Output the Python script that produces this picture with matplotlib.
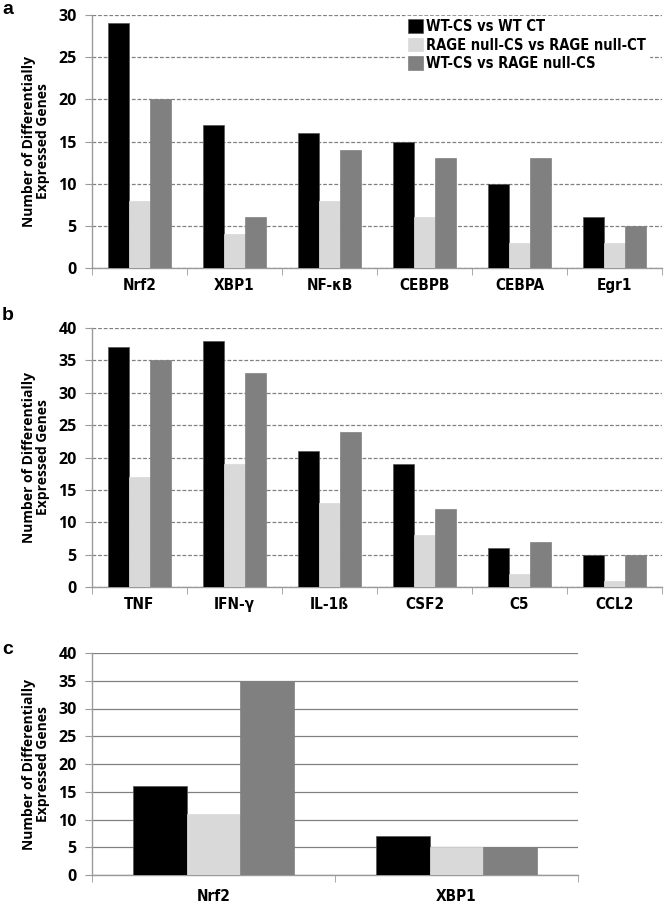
import matplotlib
matplotlib.use("Agg")
import matplotlib.pyplot as plt
import numpy as np

# data
series_names = ["WT-CS vs WT CT", "RAGE null-CS vs RAGE null-CT", "WT-CS vs RAGE null-CS"]
colors = ["#000000", "#d9d9d9", "#808080"]

a_labels = ["Nrf2", "XBP1", "NF-\u03baB", "CEBPB", "CEBPA", "Egr1"]
a_wt = [29, 17, 16, 15, 10, 6]
a_null = [8, 4, 8, 6, 3, 3]
a_wt_null = [20, 6, 14, 13, 13, 5]

b_labels = ["TNF", "IFN-\u03b3", "IL-1\u00df", "CSF2", "C5", "CCL2"]
b_wt = [37, 38, 21, 19, 6, 5]
b_null = [17, 19, 13, 8, 2, 1]
b_wt_null = [35, 33, 24, 12, 7, 5]

c_labels = ["Nrf2", "XBP1"]
c_wt = [16, 7]
c_null = [11, 5]
c_wt_null = [35, 5]

plt.rcParams["font.family"] = ["Open Sans", "DejaVu Sans"]
plt.rcParams["font.weight"] = "bold"
narrow = ["DejaVu Sans"]
grey = "#9a9a9a"

fig = plt.figure(figsize=(6.66, 9.06), dpi=100)
W, H = 666.0, 906.0


def make_axes(left, right, top, bottom):
    return fig.add_axes([left / W, 1 - bottom / H, (right - left) / W, (bottom - top) / H])


def draw_panel(ax, labels, vals, ymax, dashed, xpad):
    n = len(labels)
    x = np.arange(n)
    w = 0.22
    for i, v in enumerate(vals):
        ax.bar(x + (i - 1) * w, v, w, color=colors[i], edgecolor="#555555" if i == 0 else colors[i],
               linewidth=0.5, zorder=3, label=series_names[i])
    ax.set_xlim(-0.5, n - 0.5)
    ax.set_ylim(0, ymax)
    ticks = np.arange(0, ymax + 1, 5)
    ax.set_yticks(ticks, [str(t) for t in ticks], fontsize=11.5, fontweight="bold")
    ls = (0, (3, 1.5)) if dashed else "-"
    ax.yaxis.grid(True, color="#808080", linestyle=ls, linewidth=0.9, zorder=0)
    ax.set_axisbelow(True)
    for s in ["top", "right"]:
        ax.spines[s].set_visible(False)
    for s in ["left", "bottom"]:
        ax.spines[s].set_color(grey)
        ax.spines[s].set_linewidth(1.0)
    ax.set_xticks(x, labels, fontfamily=narrow, fontweight="bold", fontstretch="condensed",
                  fontsize=11)
    ax.set_xticks(np.arange(n + 1) - 0.5, minor=True)
    ax.tick_params(axis="x", which="major", length=0, pad=xpad)
    ax.tick_params(axis="x", which="minor", length=5, color=grey, direction="out")
    ax.tick_params(axis="y", length=5, color=grey, pad=6)


def ylabel(top, bottom):
    fig.text(36 / W, 1 - (top + bottom) / 2 / H, "Number of Differentially\nExpressed Genes",
             rotation=90, ha="center", va="center", fontsize=10, fontweight="bold",
             linespacing=1.05)


# panel a
ax1 = make_axes(92, 662, 15, 268)
draw_panel(ax1, a_labels, [a_wt, a_null, a_wt_null], 30, True, 7)
ylabel(15, 268)
leg = ax1.legend(loc="upper left", bbox_to_anchor=(405 / W, 1 - 16 / H), bbox_transform=fig.transFigure,
                 frameon=True, fancybox=False, framealpha=1, edgecolor="white",
                 handlelength=1.05, handleheight=1.05, handletextpad=0.2, labelspacing=0.25,
                 borderpad=0.2, borderaxespad=0,
                 prop={"family": narrow, "weight": "bold", "stretch": "condensed", "size": 10.5})
leg.set_zorder(5)

# panel b
ax2 = make_axes(92, 662, 328, 587)
draw_panel(ax2, b_labels, [b_wt, b_null, b_wt_null], 40, True, 7)
ylabel(328, 587)

# panel c
ax3 = make_axes(92, 578, 653, 875)
draw_panel(ax3, c_labels, [c_wt, c_null, c_wt_null], 40, False, 10)
ylabel(653, 875)

for lab, y in [("a", 10), ("b", 315), ("c", 650)]:
    fig.text(8 / W, 1 - y / H, lab, ha="center", va="center", fontsize=14, fontweight="bold",
             family=["Liberation Sans", "DejaVu Sans"])

fig.savefig("out.png", dpi=100)
